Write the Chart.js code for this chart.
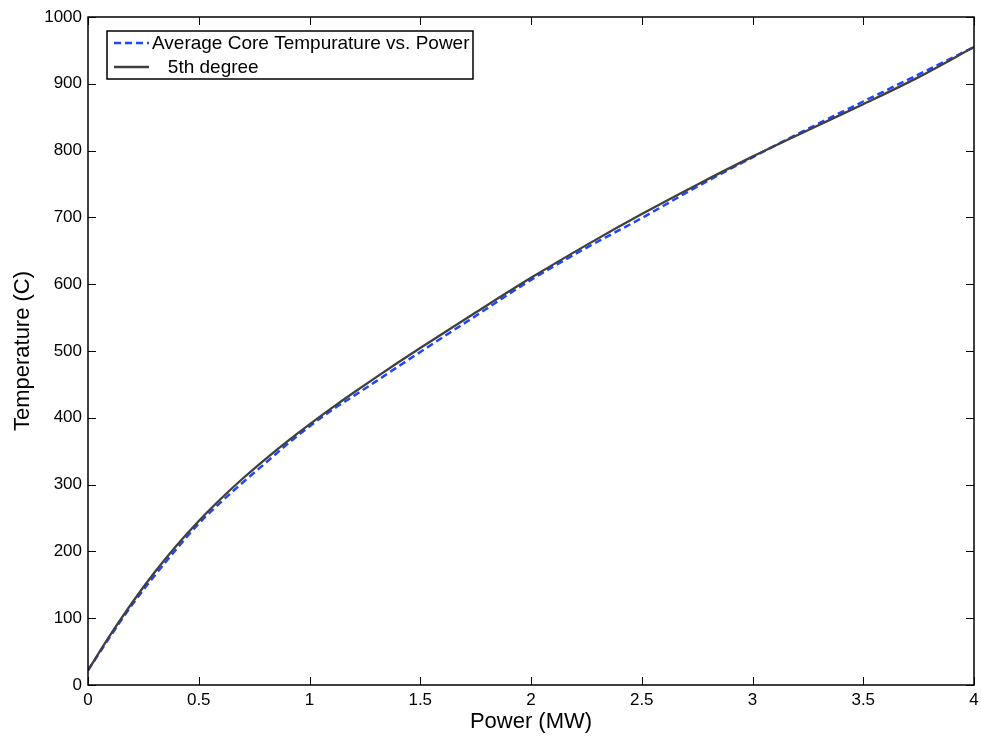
<!DOCTYPE html>
<html>
<head>
<meta charset="utf-8">
<style>
  html, body { margin: 0; padding: 0; background: #fff; }
  #wrap { width: 981px; height: 739px; position: relative; }
</style>
<script src="https://cdn.jsdelivr.net/npm/chart.js@4/dist/chart.umd.min.js"></script>
</head>
<body>
<div id="wrap"><canvas id="c" width="981" height="739"></canvas></div>
<script>
// ---- Data ----
const powerMW = [0, 0.1, 0.2, 0.3, 0.4, 0.5, 0.6, 0.7, 0.8, 0.9, 1, 1.1, 1.2, 1.3, 1.4, 1.5, 1.75, 2, 2.25, 2.5, 2.75, 3, 3.25, 3.5, 3.75, 4];
const avgCoreTemp = [22, 72.5, 120.5, 163.3, 203.8, 241.5, 273.8, 303.5, 331.9, 360.7, 387.1, 411.4, 432.8, 454.5, 476.7, 498.5, 552.5, 606.5, 654.5, 699, 746, 790, 832.5, 873.5, 914, 955];
const fifthDegreeFit = [22, 74.5, 123.5, 168.3, 208.8, 245.5, 278.8, 309.5, 337.9, 364.7, 390.1, 414.4, 437.8, 460.5, 482.7, 504.5, 557.5, 609.5, 658.5, 705, 749, 791, 830.5, 869.5, 910, 955];
const seriesLabels = ['Average Core Tempurature vs. Power', '   5th degree'];
const xTicks = [0, 0.5, 1, 1.5, 2, 2.5, 3, 3.5, 4];
const yTicks = [0, 100, 200, 300, 400, 500, 600, 700, 800, 900, 1000];

const FONT = '"Liberation Sans", Arial, Helvetica, sans-serif';

function pts(xs, ys) { return xs.map((x, i) => ({ x: x, y: ys[i] })); }

const boxPlugin = {
  id: 'boxTicks',
  afterDraw(chart) {
    const ctx = chart.ctx;
    const a = chart.chartArea;
    const xs = chart.scales.x, ys = chart.scales.y;
    const L = 8;
    ctx.save();
    ctx.strokeStyle = '#000';
    ctx.lineWidth = 1;
    ctx.beginPath();
    xTicks.forEach(v => {
      const px = Math.round(xs.getPixelForValue(v)) + 0.5;
      ctx.moveTo(px, a.bottom); ctx.lineTo(px, a.bottom - L);
      ctx.moveTo(px, a.top); ctx.lineTo(px, a.top + L);
    });
    yTicks.forEach(v => {
      const py = Math.round(ys.getPixelForValue(v)) + 0.5;
      ctx.moveTo(a.left, py); ctx.lineTo(a.left + L, py);
      ctx.moveTo(a.right, py); ctx.lineTo(a.right - L, py);
    });
    ctx.stroke();
    ctx.lineWidth = 1.5;
    ctx.strokeRect(a.left, a.top, a.right - a.left, a.bottom - a.top);
    ctx.restore();

    // legend box
    const lx = 107, ly = 31, lw = 366, lh = 48;
    ctx.save();
    ctx.fillStyle = '#fff';
    ctx.fillRect(lx, ly, lw, lh);
    ctx.strokeStyle = '#000';
    ctx.lineWidth = 1.5;
    ctx.strokeRect(lx, ly, lw, lh);
    ctx.font = '19px ' + FONT;
    ctx.textBaseline = 'middle';
    ctx.fillStyle = '#000';
    const rows = [43, 67];
    chart.data.datasets.forEach((ds, i) => {
      const y = rows[i];
      ctx.save();
      ctx.strokeStyle = ds.borderColor;
      ctx.lineWidth = ds.borderWidth;
      ctx.setLineDash(ds.borderDash || []);
      ctx.beginPath();
      ctx.moveTo(114, y); ctx.lineTo(149, y);
      ctx.stroke();
      ctx.restore();
      ctx.fillText(ds.label, 152, y + 1);
    });
    ctx.restore();
  }
};

new Chart(document.getElementById('c'), {
  type: 'line',
  data: {
    datasets: [
      {
        label: seriesLabels[0],
        data: pts(powerMW, avgCoreTemp),
        borderColor: '#1f45ff',
        borderWidth: 2.5,
        borderDash: [7, 4],
        pointRadius: 0,
        cubicInterpolationMode: 'monotone',
        fill: false,
        order: 1
      },
      {
        label: seriesLabels[1],
        data: pts(powerMW, fifthDegreeFit),
        borderColor: '#404040',
        borderWidth: 2.3,
        pointRadius: 0,
        cubicInterpolationMode: 'monotone',
        fill: false,
        order: 0
      }
    ]
  },
  options: {
    responsive: false,
    animation: false,
    devicePixelRatio: 1,
    layout: { padding: { top: 17, right: 7, left: 0, bottom: 0 } },
    plugins: { legend: { display: false }, tooltip: { enabled: false } },
    scales: {
      x: {
        type: 'linear',
        min: 0, max: 4,
        afterFit(s) { s.height = 54; s.paddingLeft = 0; s.paddingRight = 0; },
        afterBuildTicks(s) { s.ticks = xTicks.map(v => ({ value: v })); },
        grid: { display: false, drawTicks: false },
        border: { display: false },
        ticks: { color: '#000', font: { family: FONT, size: 17 }, padding: 5, maxRotation: 0, callback: v => String(v) },
        title: { display: true, text: 'Power (MW)', color: '#000', font: { family: FONT, size: 22 }, padding: { top: 0, bottom: 4 } }
      },
      y: {
        type: 'linear',
        min: 0, max: 1000,
        afterFit(s) { s.width = 88; s.paddingTop = 0; s.paddingBottom = 0; },
        afterBuildTicks(s) { s.ticks = yTicks.map(v => ({ value: v })); },
        grid: { display: false, drawTicks: false },
        border: { display: false },
        ticks: { color: '#000', font: { family: FONT, size: 17 }, padding: 6, callback: v => String(v) },
        title: { display: true, text: 'Temperature (C)', color: '#000', font: { family: FONT, size: 22 }, padding: { top: 10, bottom: 0 } }
      }
    }
  },
  plugins: [boxPlugin]
});
</script>
</body>
</html>
